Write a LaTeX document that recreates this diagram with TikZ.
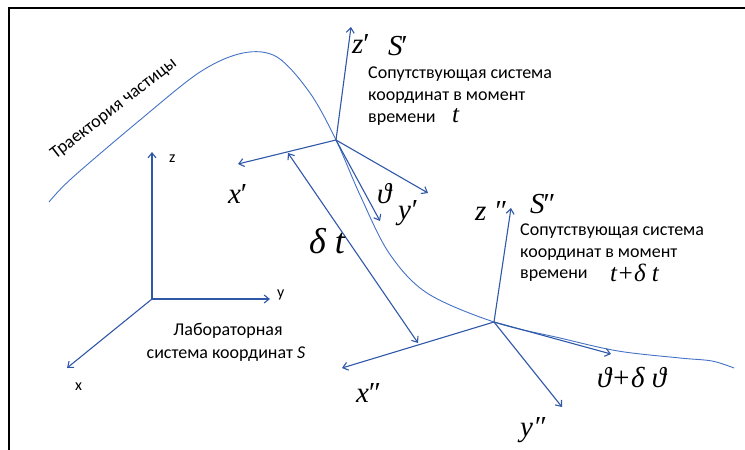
\documentclass[tikz,border=0pt]{standalone}
\usepackage{fontspec}
\setmainfont{Carlito}
\newfontfamily\tnr{Liberation Serif}
\usetikzlibrary{arrows.meta}
\definecolor{axblue}{RGB}{47,88,168}
\definecolor{trblue}{RGB}{68,114,196}
\tikzset{
  barb/.tip={Straight Barb[length=5pt,width=8pt]},
  axis/.style={draw=axblue, line width=1.1pt, -barb},
  dax/.style={draw=axblue, line width=1.1pt, barb-barb},
  traj/.style={draw=trblue, line width=0.9pt},
  frameline/.style={draw=black, line width=2pt},
  sans/.style={font=\fontsize{18}{20}\selectfont, inner sep=0pt, anchor=base west},
  small/.style={font=\fontsize{16}{18}\selectfont, inner sep=0pt, anchor=base west},
  mlab/.style={font=\tnr\itshape\fontsize{29}{30}\selectfont, inner sep=0pt, anchor=base west},
  tlab/.style={font=\tnr\itshape\fontsize{25}{26}\selectfont, inner sep=0pt, anchor=base west},
}
\begin{document}
\begin{tikzpicture}[x=1pt,y=-1pt]
\useasboundingbox (0,0) rectangle (745,450);
\draw[frameline] (9,450) -- (9,8) -- (745,8);

% trajectory
\draw[traj] plot[smooth, tension=0.55] coordinates {(49,202) (72,178) (140,120) (200,72) (243,53) (277,57) (310,93) (336,140) (360,195) (389,253) (427,293) (494,322) (560,338) (618,351) (680,358) (712,361) (734,368)};
\node[font=\fontsize{18}{20}\selectfont, rotate=37.7, inner sep=0pt] (traj) at (114,109) {Траектория частицы};

% laboratory frame
\coordinate (O) at (152,299);
\coordinate (Oz) at (152,152);
\coordinate (Oy) at (270,299);
\coordinate (Ox) at (67,368);
\draw[axis] (O) -- (Oz);
\draw[axis] (O) -- (Oy);
\draw[axis] (O) -- (Ox);
\node[small] (lz) at (169,162) {z};
\node[small] (ly) at (277,297) {y};
\node[small] (lx) at (75,390) {x};
\node[font=\fontsize{18}{20}\selectfont, inner sep=0pt, anchor=base] (lab1) at (228,335) {Лабораторная};
\node[font=\fontsize{18}{20}\selectfont, inner sep=0pt, anchor=base] (lab2) at (226,358) {система координат \textit{S}};

% first comoving frame
\coordinate (A) at (336,140);
\coordinate (Az) at (351,27);
\coordinate (Ax) at (238,164);
\coordinate (Ay) at (428,193);
\coordinate (Ath) at (380,221);
\coordinate (Ad) at (288,153);
\draw[axis] (A) -- (Az);
\draw[axis] (A) -- (Ax);
\draw[axis] (A) -- (Ay);
\draw[axis] (A) -- (Ath);
\node[mlab] (zp) at (352,53) {z\kern-2pt′};
\node[mlab] (Sp) at (388,55) {S\kern-3pt′};
\node[mlab] (xp) at (228,203) {x\kern-2pt′};
\node[mlab] (th) at (377,203) {ϑ};
\node[mlab] (yp) at (398,219) {y\kern-1pt′};
\node[sans] (c11) at (368,78) {Сопутствующая система};
\node[sans] (c12) at (368,100) {координат в момент};
\node[sans] (c13) at (368,122) {времени};
\node[tlab] (t1) at (452,122) {t};

% second comoving frame
\coordinate (B) at (494,322);
\coordinate (Bz) at (511,208);
\coordinate (Bx) at (342,368);
\coordinate (By) at (562,407);
\coordinate (Bth) at (611,354);
\coordinate (Bd) at (418,343);
\draw[axis] (B) -- (Bz);
\draw[axis] (B) -- (Bx);
\draw[axis] (B) -- (By);
\draw[axis] (B) -- (Bth);
\node[mlab] (zpp) at (475,220) {z ″};
\node[mlab] (Spp) at (530,213) {S\kern-3pt″};
\node[mlab] (xpp) at (356,402) {x\kern-2pt″};
\node[mlab] (ypp) at (520,436) {y″};
\node[mlab] (thd) at (597,387) {ϑ+δ ϑ};
\node[sans] (c21) at (520,235) {Сопутствующая система};
\node[sans] (c22) at (520,257) {координат в момент};
\node[sans] (c23) at (520,278) {времени};
\node[tlab] (t2) at (610,281) {t+δ t};

% delta t
\draw[dax] (Ad) -- (Bd);
\node[mlab, font=\tnr\itshape\fontsize{36}{38}\selectfont] (dt) at (309,253) {δ t};
\end{tikzpicture}
\end{document}
